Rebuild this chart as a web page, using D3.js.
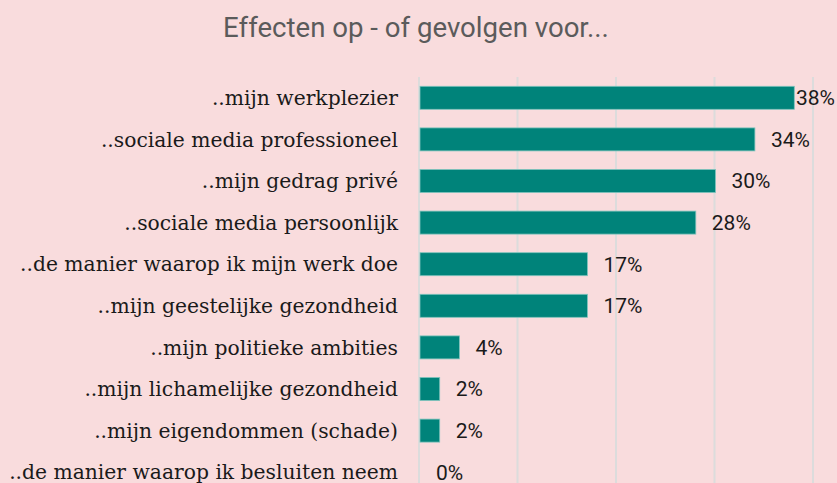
<!DOCTYPE html>
<html>
<head>
<meta charset="utf-8">
<script src="https://cdn.jsdelivr.net/npm/d3@7"></script>
<style>
  body { margin: 0; background: #f9dcdd; }
  svg { display: block; }
</style>
</head>
<body>
<svg></svg>
<script>
var categories = [
  "..mijn werkplezier",
  "..sociale media professioneel",
  "..mijn gedrag privé",
  "..sociale media persoonlijk",
  "..de manier waarop ik mijn werk doe",
  "..mijn geestelijke gezondheid",
  "..mijn politieke ambities",
  "..mijn lichamelijke gezondheid",
  "..mijn eigendommen (schade)",
  "..de manier waarop ik besluiten neem"
];
var values = [38, 34, 30, 28, 17, 17, 4, 2, 2, 0];
var gridTicks = [0, 10, 20, 30, 40];
var title = "Effecten op - of gevolgen voor...";

var width = 837, height = 483;
var margin = { left: 420, right: 23, top: 77 };

var svg = d3.select("svg")
  .attr("width", width)
  .attr("height", height);

var x = d3.scaleLinear()
  .domain([0, 40])
  .range([margin.left, width - margin.right]);

var y = d3.scaleBand()
  .domain(categories)
  .range([margin.top, margin.top + 416])
  .paddingInner(0.447)
  .paddingOuter(0.2235);

svg.append("text")
  .attr("x", 416)
  .attr("y", 37)
  .attr("text-anchor", "middle")
  .attr("font-family", "Roboto")
  .attr("font-size", 27.6)
  .attr("fill", "#5b5b5b")
  .text(title);

// gridlines
svg.append("g")
  .selectAll("line")
  .data(gridTicks)
  .enter()
  .append("line")
  .attr("x1", d => x(d) - 1)
  .attr("x2", d => x(d) - 1)
  .attr("y1", margin.top)
  .attr("y2", height + 20)
  .attr("stroke", "#dcdcdc")
  .attr("stroke-width", 2);

svg.append("g")
  .selectAll("rect")
  .data(values)
  .enter()
  .append("rect")
  .attr("x", x(0))
  .attr("y", (d, i) => y(categories[i]))
  .attr("width", d => x(d) - x(0))
  .attr("height", y.bandwidth())
  .attr("fill", "#00837a")
  .attr("stroke", "#7fc4bd")
  .attr("stroke-width", d => d > 0 ? 0.8 : 0);

svg.append("g")
  .selectAll("text")
  .data(categories)
  .enter()
  .append("text")
  .attr("x", 398)
  .attr("y", d => y(d) + y.bandwidth() / 2)
  .attr("dy", "0.35em")
  .attr("text-anchor", "end")
  .attr("font-family", "DejaVu Serif")
  .attr("font-size", 20.3)
  .attr("fill", "#1a1a1a")
  .text(d => d);

svg.append("g")
  .selectAll("text")
  .data(values)
  .enter()
  .append("text")
  .attr("y", (d, i) => y(categories[i]) + y.bandwidth() / 2)
  .attr("dy", "0.35em")
  .attr("font-family", "Roboto")
  .attr("font-size", 21)
  .attr("fill", "#1a1a1a")
  .text(d => d + "%")
  .attr("x", function (d) {
    var w = this.getComputedTextLength();
    return Math.min(x(d) + 16, width - 2 - w);
  });
</script>
</body>
</html>
